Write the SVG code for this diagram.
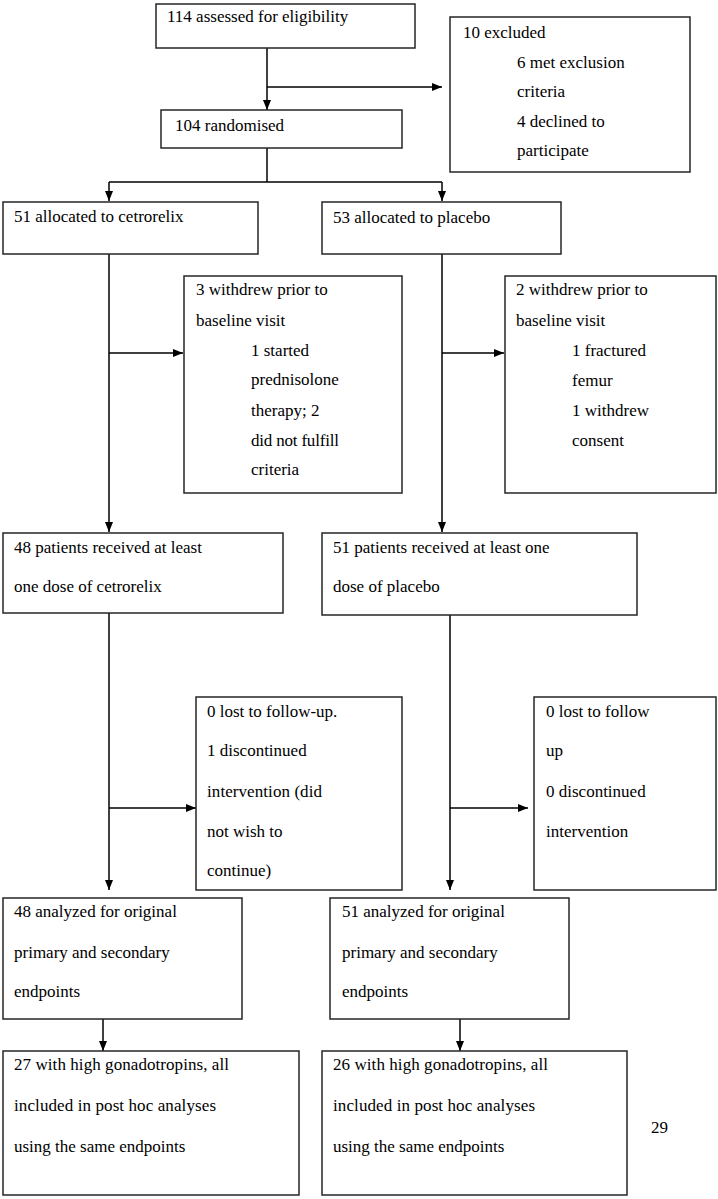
<svg xmlns="http://www.w3.org/2000/svg" width="718" height="1199" viewBox="0 0 718 1199">
<style>
.box{fill:#fff;stroke:#262626;stroke-width:1.5}
.c{stroke:#000;stroke-width:1.5;fill:none}
.a{marker-end:url(#ah)}
</style>
<defs>
<marker id="ah" markerUnits="userSpaceOnUse" markerWidth="10" markerHeight="8" refX="10" refY="4" orient="auto">
<path d="M0,0 L10,4 L0,8 z" fill="#000"/>
</marker>
</defs>
<rect width="718" height="1199" fill="#fff"/>
<g id="connectors">
<line class="c a" x1="267" y1="48" x2="267" y2="110"/>
<line class="c a" x1="267" y1="87" x2="442" y2="87"/>
<line class="c" x1="267" y1="148" x2="267" y2="182"/>
<line class="c" x1="109" y1="182" x2="442" y2="182"/>
<line class="c a" x1="109" y1="182" x2="109" y2="201"/>
<line class="c a" x1="442" y1="182" x2="442" y2="201"/>
<line class="c a" x1="109" y1="253" x2="109" y2="532"/>
<line class="c a" x1="109" y1="353" x2="183" y2="353"/>
<line class="c a" x1="442" y1="254" x2="442" y2="532"/>
<line class="c a" x1="442" y1="353" x2="504" y2="353"/>
<line class="c a" x1="109" y1="613" x2="109" y2="890"/>
<line class="c a" x1="109" y1="808" x2="196" y2="808"/>
<line class="c a" x1="450" y1="615" x2="450" y2="890"/>
<line class="c a" x1="450" y1="808" x2="528" y2="808"/>
<line class="c a" x1="103" y1="1019" x2="103" y2="1051"/>
<line class="c a" x1="460" y1="1019" x2="460" y2="1051"/>
</g>
<g font-family="Liberation Serif" font-size="17" fill="#000">
<g id="n-assessed">
<rect class="box" x="156" y="4" width="259" height="44"/>
<text x="167" y="22">114 assessed for eligibility</text>
</g>
<g id="n-excluded">
<rect class="box" x="450" y="17" width="240" height="155"/>
<text x="463" y="38">10 excluded</text>
<text x="517" y="68">6 met exclusion</text>
<text x="517" y="97">criteria</text>
<text x="517" y="127">4 declined to</text>
<text x="517" y="156">participate</text>
</g>
<g id="n-randomised">
<rect class="box" x="161" y="110" width="241" height="38"/>
<text x="175" y="131">104 randomised</text>
</g>
<g id="n-alloc-cet">
<rect class="box" x="3" y="202" width="255" height="52"/>
<text x="14" y="222">51 allocated to cetrorelix</text>
</g>
<g id="n-alloc-plc">
<rect class="box" x="322" y="202" width="239" height="52"/>
<text x="333" y="223">53 allocated to placebo</text>
</g>
<g id="n-withdrew-cet">
<rect class="box" x="184" y="276" width="218" height="217"/>
<text x="196" y="295">3 withdrew prior to</text>
<text x="196" y="326">baseline visit</text>
<text x="251" y="356">1 started</text>
<text x="251" y="385">prednisolone</text>
<text x="251" y="416">therapy; 2</text>
<text x="251" y="446" textLength="88" lengthAdjust="spacing">did not fulfill</text>
<text x="251" y="475">criteria</text>
</g>
<g id="n-withdrew-plc">
<rect class="box" x="505" y="276" width="211" height="217"/>
<text x="516" y="295">2 withdrew prior to</text>
<text x="516" y="326">baseline visit</text>
<text x="572" y="356">1 fractured</text>
<text x="572" y="386">femur</text>
<text x="572" y="416">1 withdrew</text>
<text x="572" y="446">consent</text>
</g>
<g id="n-dose-cet">
<rect class="box" x="3" y="533" width="280" height="80"/>
<text x="14" y="553">48 patients received at least</text>
<text x="14" y="592">one dose of cetrorelix</text>
</g>
<g id="n-dose-plc">
<rect class="box" x="322" y="533" width="315" height="82"/>
<text x="333" y="553">51 patients received at least one</text>
<text x="333" y="592">dose of placebo</text>
</g>
<g id="n-lost-cet">
<rect class="box" x="196" y="697" width="206" height="193"/>
<text x="207" y="717">0 lost to follow-up.</text>
<text x="207" y="756">1 discontinued</text>
<text x="207" y="797" textLength="115" lengthAdjust="spacing">intervention (did</text>
<text x="207" y="837">not wish to</text>
<text x="207" y="876">continue)</text>
</g>
<g id="n-lost-plc">
<rect class="box" x="534" y="697" width="182" height="193"/>
<text x="546" y="717">0 lost to follow</text>
<text x="546" y="756">up</text>
<text x="546" y="797">0 discontinued</text>
<text x="546" y="837">intervention</text>
</g>
<g id="n-analyzed-cet">
<rect class="box" x="3" y="898" width="239" height="121"/>
<text x="14" y="917">48 analyzed for original</text>
<text x="14" y="958">primary and secondary</text>
<text x="14" y="997">endpoints</text>
</g>
<g id="n-analyzed-plc">
<rect class="box" x="330" y="898" width="239" height="121"/>
<text x="342" y="917">51 analyzed for original</text>
<text x="342" y="958">primary and secondary</text>
<text x="342" y="997">endpoints</text>
</g>
<g id="n-high-cet">
<rect class="box" x="3" y="1051" width="296" height="144"/>
<text x="14" y="1070" textLength="215" lengthAdjust="spacing">27 with high gonadotropins, all</text>
<text x="14" y="1111" textLength="202" lengthAdjust="spacing">included in post hoc analyses</text>
<text x="14" y="1152">using the same endpoints</text>
</g>
<g id="n-high-plc">
<rect class="box" x="322" y="1051" width="305" height="144"/>
<text x="333" y="1070" textLength="215" lengthAdjust="spacing">26 with high gonadotropins, all</text>
<text x="333" y="1111" textLength="202" lengthAdjust="spacing">included in post hoc analyses</text>
<text x="333" y="1152">using the same endpoints</text>
</g>
<text x="651" y="1133">29</text>
</g>
</svg>
